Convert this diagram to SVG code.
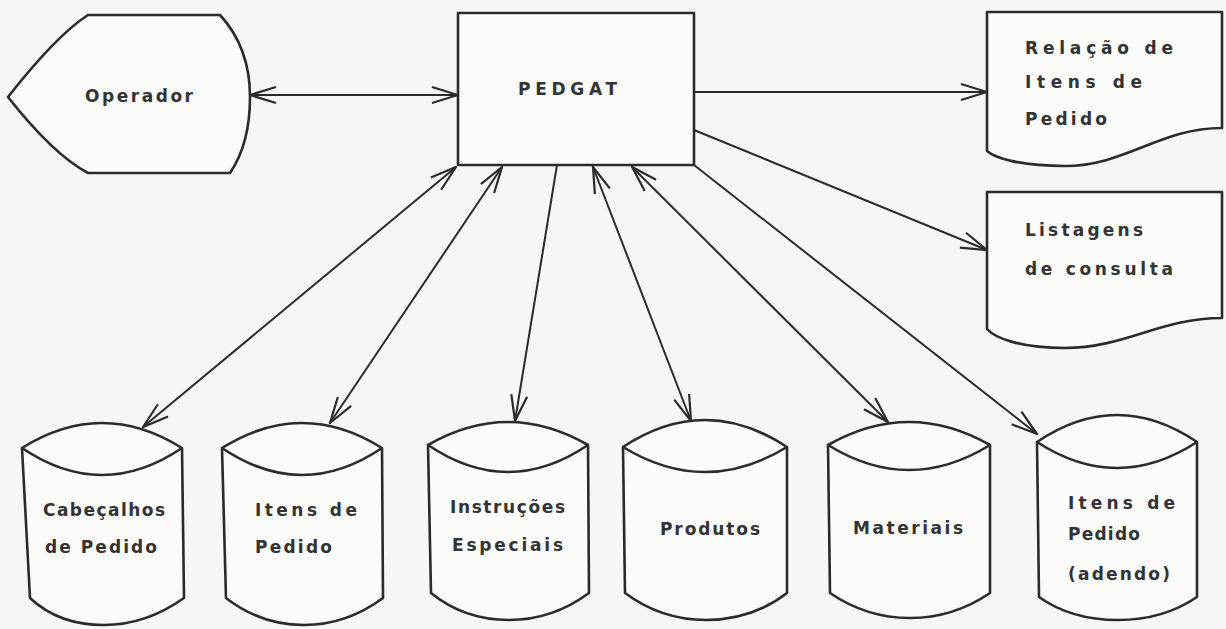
<svg xmlns="http://www.w3.org/2000/svg" width="1226" height="629" viewBox="0 0 1226 629">
<style>
.shape{fill:#fbfbfa;stroke:#2b2b2b;stroke-width:2.6;stroke-linejoin:round}
.inner{fill:none;stroke:#2b2b2b;stroke-width:2.6}
.lbl{font-family:"DejaVu Sans",Verdana,sans-serif;font-weight:bold;font-size:17px;fill:#333}
.con{fill:none;stroke:#2b2b2b;stroke-width:2}
</style>
<defs>
<marker id="ah" viewBox="0 0 28 20" refX="27" refY="10" markerWidth="28" markerHeight="20" markerUnits="userSpaceOnUse" orient="auto-start-reverse">
<path d="M1,2 L27,10 L1,18" fill="none" stroke="#2b2b2b" stroke-width="2.2"/>
</marker>
</defs>
<rect x="0" y="0" width="1226" height="629" fill="#f6f6f4"/>

<g id="operador">
<path class="shape" d="M88,15 L220,15 C243,40 250,70 250,97 C250,128 243,154 230,173 L88,173 C60,158 30,125 8,97 C30,69 60,33 88,15 Z"/>
<text class="lbl" x="85" y="102" textLength="108" lengthAdjust="spacing">Operador</text>
</g>

<g id="pedgat">
<rect class="shape" x="458" y="13" width="236" height="152"/>
<text class="lbl" x="518" y="95" textLength="99" lengthAdjust="spacing">PEDGAT</text>
</g>

<g id="relacao">
<path class="shape" d="M987,12 H1222 V128 C1160,128 1125,166 1065,166 C1020,166 995,158 987,151 Z"/>
<text class="lbl" x="1025" y="54" textLength="148" lengthAdjust="spacing">Relação de</text>
<text class="lbl" x="1025" y="88" textLength="117" lengthAdjust="spacing">Itens de</text>
<text class="lbl" x="1025" y="125" textLength="82" lengthAdjust="spacing">Pedido</text>
</g>

<g id="listagens">
<path class="shape" d="M987,192 H1222 V318 C1160,318 1125,348 1065,348 C1020,348 995,338 987,329 Z"/>
<text class="lbl" x="1025" y="236" textLength="118" lengthAdjust="spacing">Listagens</text>
<text class="lbl" x="1025" y="275" textLength="148" lengthAdjust="spacing">de consulta</text>
</g>

<g id="cabecalhos">
<path class="shape" d="M22,448 Q102,398 182,448 L184,598 C160,615 135,625 104,625 C72,625 48,615 30,598 Z"/>
<path class="inner" d="M22,448 Q102,502 182,448"/>
<text class="lbl" x="43" y="516" textLength="122" lengthAdjust="spacing">Cabeçalhos</text>
<text class="lbl" x="45" y="553" textLength="112" lengthAdjust="spacing">de Pedido</text>
</g>

<g id="itens-pedido">
<path class="shape" d="M222,448 Q302,398 382,448 L383,598 C360,615 335,625 304,625 C272,625 248,615 226,598 Z"/>
<path class="inner" d="M222,448 Q302,502 382,448"/>
<text class="lbl" x="255" y="516" textLength="102" lengthAdjust="spacing">Itens de</text>
<text class="lbl" x="255" y="553" textLength="77" lengthAdjust="spacing">Pedido</text>
</g>

<g id="instrucoes">
<path class="shape" d="M428,445 Q508,399 588,445 L589,593 C566,610 540,620 509,620 C477,620 452,610 431,593 Z"/>
<path class="inner" d="M428,445 Q508,499 588,445"/>
<text class="lbl" x="450" y="513" textLength="115" lengthAdjust="spacing">Instruções</text>
<text class="lbl" x="452" y="551" textLength="111" lengthAdjust="spacing">Especiais</text>
</g>

<g id="produtos">
<path class="shape" d="M623,447 Q705,393 787,447 L787,593 C765,610 738,620 706,620 C674,620 648,610 625,593 Z"/>
<path class="inner" d="M623,447 Q705,497 787,447"/>
<text class="lbl" x="660" y="535" textLength="100" lengthAdjust="spacing">Produtos</text>
</g>

<g id="materiais">
<path class="shape" d="M828,445 Q909,399 990,445 L990,593 C968,608 942,618 910,618 C878,618 852,608 830,593 Z"/>
<path class="inner" d="M828,445 Q909,495 990,445"/>
<text class="lbl" x="853" y="534" textLength="110" lengthAdjust="spacing">Materiais</text>
</g>

<g id="itens-adendo">
<path class="shape" d="M1037,442 Q1117,388 1197,442 L1197,597 C1175,612 1150,620 1118,620 C1086,620 1060,612 1039,597 Z"/>
<path class="inner" d="M1037,442 Q1117,494 1197,442"/>
<text class="lbl" x="1068" y="509" textLength="107" lengthAdjust="spacing">Itens de</text>
<text class="lbl" x="1068" y="540" textLength="72" lengthAdjust="spacing">Pedido</text>
<text class="lbl" x="1068" y="580" textLength="102" lengthAdjust="spacing">(adendo)</text>
</g>

<g id="connectors">
<line class="con" x1="250" y1="95" x2="458" y2="95" marker-start="url(#ah)" marker-end="url(#ah)"/>
<line class="con" x1="694" y1="92" x2="987" y2="92" marker-end="url(#ah)"/>
<line class="con" x1="694" y1="130" x2="987" y2="250" marker-end="url(#ah)"/>
<line class="con" x1="456" y1="167" x2="143" y2="427" marker-start="url(#ah)" marker-end="url(#ah)"/>
<line class="con" x1="502" y1="167" x2="330" y2="423" marker-start="url(#ah)" marker-end="url(#ah)"/>
<line class="con" x1="557" y1="165" x2="515" y2="421" marker-end="url(#ah)"/>
<line class="con" x1="593" y1="167" x2="691" y2="421" marker-start="url(#ah)" marker-end="url(#ah)"/>
<line class="con" x1="632" y1="167" x2="888" y2="422" marker-start="url(#ah)" marker-end="url(#ah)"/>
<line class="con" x1="694" y1="165" x2="1037" y2="434" marker-end="url(#ah)"/>
</g>
</svg>
